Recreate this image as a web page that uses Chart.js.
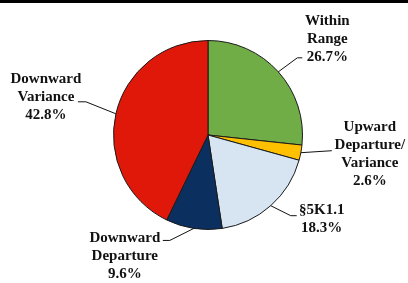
<!DOCTYPE html>
<html>
<head>
<meta charset="utf-8">
<script src="https://cdn.jsdelivr.net/npm/chart.js@4"></script>
<style>
  html, body { margin: 0; padding: 0; background: #fff; }
  #wrap { position: relative; width: 408px; height: 283px; overflow: hidden; }
  #topbar { position: absolute; left: 0; top: 0; width: 408px; height: 3px; background: #000; }
  canvas { position: absolute; left: 0; top: 0; }
</style>
</head>
<body>
<div id="wrap">
  <canvas id="pie" width="408" height="283"></canvas>
  <div id="topbar"></div>
</div>
<script>
// données du graphique
const categories = ['Within\nRange', 'Upward\nDeparture/\nVariance', '§5K1.1', 'Downward\nDeparture', 'Downward\nVariance'];
const shares = [26.7, 2.6, 18.3, 9.6, 42.8];
const colors = ['#70AD47', '#FFC000', '#D6E5F1', '#0B2F5E', '#E0180A'];

// position des étiquettes (coude et fin du trait, relatifs au bord de la part)
const labelLayout = [
    { elbow: [19, -14], end: [24, -14], text: [25, -37] },
    { elbow: [31, -2],  end: [31, -2],  text: [38, -24] },
    { elbow: [20, 10],  end: [26, 10],  text: [25, -6] },
    { elbow: [-24, 12], end: [-31, 12], text: [-38, -2] },
    { elbow: [-30, -12], end: [-38, -12], text: [-32, -23] }
];

const leaderPlugin = {
    id: 'leaders',
    afterDraw(chart) {
        const ctx = chart.ctx;
        const meta = chart.getDatasetMeta(0);
        ctx.save();
        ctx.font = 'bold 15px "Liberation Serif", "Times New Roman", serif';
        ctx.textAlign = 'center';
        ctx.textBaseline = 'middle';
        meta.data.forEach((arc, i) => {
            const p = arc.getProps(['x', 'y', 'startAngle', 'endAngle', 'outerRadius'], true);
            const mid = (p.startAngle + p.endAngle) / 2;
            const ex = p.x + Math.cos(mid) * p.outerRadius;
            const ey = p.y + Math.sin(mid) * p.outerRadius;
            const L = labelLayout[i];

            // trait de rappel
            ctx.strokeStyle = '#111';
            ctx.lineWidth = 1;
            ctx.beginPath();
            ctx.moveTo(ex, ey);
            ctx.lineTo(ex + L.elbow[0], ey + L.elbow[1]);
            ctx.lineTo(ex + L.end[0], ey + L.end[1]);
            ctx.stroke();

            // texte
            const lines = categories[i].split('\n').concat([shares[i].toFixed(1) + '%']);
            const tx = ex + L.end[0] + L.text[0];
            const ty = ey + L.end[1] + L.text[1];
            ctx.fillStyle = '#111';
            lines.forEach((line, k) => ctx.fillText(line, tx, ty + k * 18));
        });
        ctx.restore();
    }
};

new Chart(document.getElementById('pie'), {
    type: 'pie',
    data: {
        labels: categories,
        datasets: [{
            data: shares,
            backgroundColor: colors,
            borderColor: '#1a1a1a',
            borderWidth: 1
        }]
    },
    options: {
        responsive: false,
        animation: false,
        layout: { padding: { left: 113, right: 105, top: 40, bottom: 53 } },
        plugins: {
            legend: { display: false },
            tooltip: { enabled: false }
        }
    },
    plugins: [leaderPlugin]
});
</script>
</body>
</html>
